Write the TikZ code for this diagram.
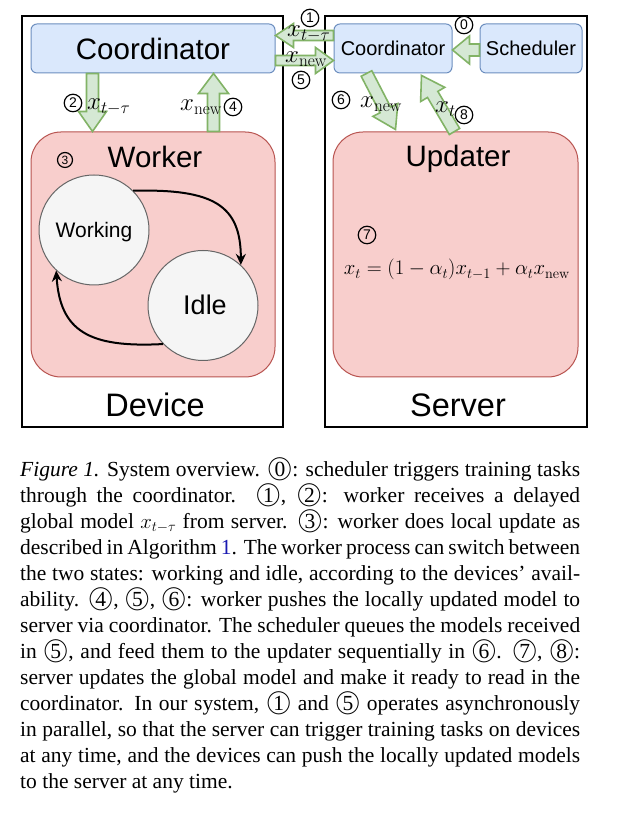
\documentclass[tikz,border=0pt]{standalone}
\usepackage[no-math]{fontspec}
\usepackage{graphicx}
\setmainfont{Liberation Serif}
\setsansfont{Liberation Sans}
\usetikzlibrary{calc,arrows.meta}
\definecolor{bfill}{HTML}{DAE8FC}
\definecolor{bstroke}{HTML}{6C8EBF}
\definecolor{rfill}{HTML}{F8CECC}
\definecolor{rstroke}{HTML}{B85450}
\definecolor{gfill}{HTML}{D5E8D4}
\definecolor{gstroke}{HTML}{82B366}
\definecolor{cfill}{HTML}{F5F5F5}
\definecolor{cstroke}{HTML}{666666}
\definecolor{linkblue}{rgb}{0.1,0.1,0.7}
\newcommand\cc[1]{\ooalign{\hfil#1\hfil\cr\raisebox{0.05em}{\scalebox{1.2}{$\bigcirc$}}\cr}}
\newcommand\blockarrow[6]{%
  \coordinate (#1s) at (#2);
  \coordinate (#1e) at (#3);
  \coordinate (#1h) at ($(#1e)!#6!(#1s)$);
  \draw[flex] ($(#1s)!#4!90:(#1e)$) -- ($(#1h)!#4!90:(#1e)$) -- ($(#1h)!#5!90:(#1e)$)
    -- (#1e) -- ($(#1h)!#5!-90:(#1e)$) -- ($(#1h)!#4!-90:(#1e)$) -- ($(#1s)!#4!-90:(#1e)$) -- cycle;}
\begin{document}
\begin{tikzpicture}[x=1pt,y=1pt,
  box/.style={draw=bstroke, fill=bfill, rounded corners=6pt, line width=1pt, inner sep=0pt, minimum height=49pt},
  rbox/.style={draw=rstroke, fill=rfill, rounded corners=30pt, line width=1pt, minimum width=244pt, minimum height=245pt, inner sep=0pt},
  state/.style={circle, draw=cstroke, fill=cfill, line width=1pt, minimum size=110pt, inner sep=0pt},
  outer/.style={draw=black, line width=1.3pt, inner sep=0pt, minimum height=411pt},
  flex/.style={draw=gstroke, fill=gfill, line width=1.6pt, line join=miter},
  lbl/.style={inner sep=0pt, anchor=base},
  mlbl/.style={inner sep=0pt, anchor=base west, font=\fontsize{24}{24}\selectfont},
  cdig/.style={circle, draw=black, line width=1.2pt, minimum size=17.5pt, inner sep=0pt, font=\sffamily\fontsize{14}{14}\selectfont},
  cur/.style={draw=black, line width=2pt, -{Stealth[length=11pt,width=10pt]}},
  bigs/.style={font=\sffamily\fontsize{29.5}{30}\selectfont},
  hugs/.style={font=\sffamily\fontsize{32.5}{33}\selectfont},
  smalls/.style={font=\sffamily\fontsize{20}{20}\selectfont}
]
\useasboundingbox[fill=white] (0,0) rectangle (617,818);
% outer boxes
\node[outer, minimum width=261pt] (device) at (152.5,596.5) {};
\node[outer, minimum width=262pt] (server) at (456,596.5) {};
% coordinators & scheduler
\node[box, bigs, minimum width=244pt] (dcoord) at (153,769.5) {Coordinator};
\node[box, smalls, minimum width=118pt] (scoord) at (393,769.5) {Coordinator};
\node[box, smalls, minimum width=102pt] (sched) at (531,769.5) {Scheduler};
% worker and updater
\node[rbox] (worker) at (153,563.5) {};
\node[rbox, minimum width=245pt] (updater) at (455.5,563.5) {};
\node[state] (working) at (94,588) {};
\node[state] (idle) at (203,512.5) {};
% texts
\node[lbl, bigs] (tworker) at (155,650) {Worker};
\node[lbl, font=\sffamily\fontsize{21}{21}\selectfont] (tworking) at (94,580) {Working};
\node[lbl, font=\sffamily\fontsize{27}{27}\selectfont] (tidle) at (205,503) {Idle};
\node[lbl, hugs] (tdevice) at (155,401) {Device};
\node[lbl, bigs] (tupdater) at (458,651) {Updater};
\node[lbl, hugs] (tserver) at (458,401) {Server};
\node[lbl, font=\fontsize{20}{20}\selectfont] (eq) at (457,543) {$x_t = (1-\alpha_t)x_{t-1} + \alpha_t x_{\mathrm{new}}$};
% curved arrows
\draw[cur] (working.45) .. controls +(80,2) and +(0,60) .. (idle.47);
\draw[cur] (idle.224) .. controls +(-75,-4) and +(4,-60) .. (working.227);
% block arrows
\blockarrow{a0}{$(sched.west)+(0,-1.5)$}{$(scoord.east)+(0,-1.5)$}{6pt}{14pt}{17pt}
\blockarrow{a1}{$(scoord.west)+(0,13)$}{$(dcoord.east)+(0,13)$}{5pt}{12pt}{18pt}
\blockarrow{a5}{$(dcoord.east)+(0,-12)$}{$(scoord.west)+(0,-12)$}{5pt}{13pt}{18pt}
\blockarrow{a2}{$(dcoord.south west)+(62,0)$}{$(worker.north west)+(62,0)$}{6pt}{14pt}{20pt}
\blockarrow{a4}{$(worker.north west)+(183,0)$}{$(dcoord.south west)+(183,0)$}{6pt}{15pt}{20pt}
\blockarrow{a6}{$(scoord.south west)+(33,0)$}{$(updater.north west)+(63,2)$}{6pt}{14pt}{22pt}
\blockarrow{a8}{$(updater.north west)+(122,0)$}{$(scoord.south west)+(88,-2)$}{6pt}{14pt}{22pt}
% math labels
\node[mlbl] (l2) at (87,708) {$x_{t-\tau}$};
\node[mlbl] (l4) at (180,707) {$x_{\mathrm{new}}$};
\node[mlbl] (l1) at (287,781) {$x_{t-\tau}$};
\node[mlbl] (l5) at (285,755) {$x_{\mathrm{new}}$};
\node[mlbl] (l6) at (360,710) {$x_{\mathrm{new}}$};
\node[mlbl] (l8) at (435,705) {$x_t$};
% circled digits
\node[cdig] (c0) at (464,793) {0};
\node[cdig] (c1) at (310,800) {1};
\node[cdig] (c2) at (73,715) {2};
\node[cdig, minimum size=15pt, font=\sffamily\fontsize{12}{12}\selectfont] (c3) at (65,658) {3};
\node[cdig] (c4) at (233,711) {4};
\node[cdig] (c5) at (301,738) {5};
\node[cdig] (c6) at (341,718) {6};
\node[cdig] (c7) at (367,583) {7};
\node[cdig] (c8) at (464,703) {8};
% caption
\node[anchor=north west, inner sep=0pt, text width=560pt, align=justify,
      font=\fontsize{21.5}{26}\selectfont] (caption) at (20,357) {%
\textit{Figure 1.} System overview. \cc{0}: scheduler triggers training tasks\linebreak
through the coordinator. \cc{1}, \cc{2}: worker receives a delayed\linebreak
global model $x_{t-\tau}$ from server. \cc{3}: worker does local update as\linebreak
described in Algorithm {\color{linkblue}1}. The worker process can switch between\linebreak
the two states: working and idle, according to the devices' avail-\linebreak
ability. \cc{4}, \cc{5}, \cc{6}: worker pushes the locally updated model to\linebreak
server via coordinator. The scheduler queues the models received\linebreak
in \cc{5}, and feed them to the updater sequentially in \cc{6}. \cc{7}, \cc{8}:\linebreak
server updates the global model and make it ready to read in the\linebreak
coordinator. In our system, \cc{1} and \cc{5} operates asynchronously\linebreak
in parallel, so that the server can trigger training tasks on devices\linebreak
at any time, and the devices can push the locally updated models\linebreak
to the server at any time.};
\end{tikzpicture}
\end{document}
